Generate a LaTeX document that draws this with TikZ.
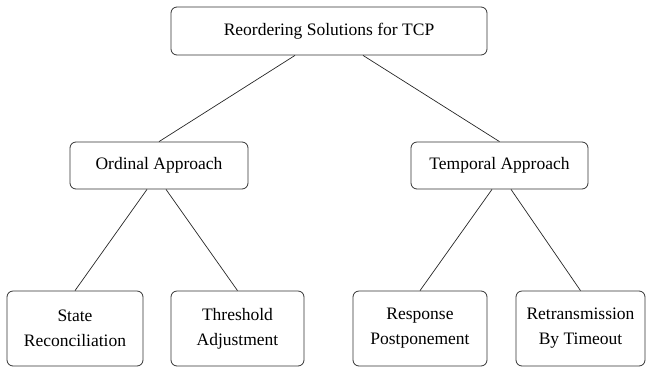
\documentclass[tikz,border=0pt]{standalone}
\usepackage{fontspec}
\setmainfont{Liberation Serif}
\usetikzlibrary{positioning, calc}
\tikzset{
  box/.style={draw=black!80, line width=0.8pt, rounded corners=6pt, align=center, inner sep=0pt},
  leaf/.style={box, minimum height=75pt},
  link/.style={draw=black!85, line width=0.7pt}
}

\begin{document}
\begin{tikzpicture}[x=1pt, y=-1pt, font=\fontsize{17.5}{25}\selectfont]
    \useasboundingbox (0,0) rectangle (646,368);

    \node [box, minimum width=316pt, minimum height=48pt] (root) at (329,31) {Reordering Solutions for TCP};

    \node [box, minimum width=178pt, minimum height=47pt] (ordinal) at (159,165.5) {Ordinal Approach};
    \node [box, minimum width=177pt, minimum height=47pt] (temporal) at (499.5,165.5) {Temporal Approach};

    \node [leaf, minimum width=136pt] (state) at (75,328.5) {State\\Reconciliation};
    \node [leaf, minimum width=133pt] (thresh) at (237.5,328.5) {Threshold\\Adjustment};
    \node [leaf, minimum width=134pt] (resp) at (420,328.5) {Response\\Postponement};
    \node [leaf, minimum width=129pt] (retrans) at (580.5,328.5) {Retransmission\\By Timeout};

    % tree edges
    \draw [link] ([xshift=-34pt]root.south) -- (ordinal.north);
    \draw [link] ([xshift=34pt]root.south) -- (temporal.north);
    \draw [link] ([xshift=-12pt]ordinal.south) -- (state.north);
    \draw [link] ([xshift=7pt]ordinal.south) -- (thresh.north);
    \draw [link] ([xshift=-7.5pt]temporal.south) -- (resp.north);
    \draw [link] ([xshift=11.5pt]temporal.south) -- (retrans.north);

\end{tikzpicture}
\end{document}
